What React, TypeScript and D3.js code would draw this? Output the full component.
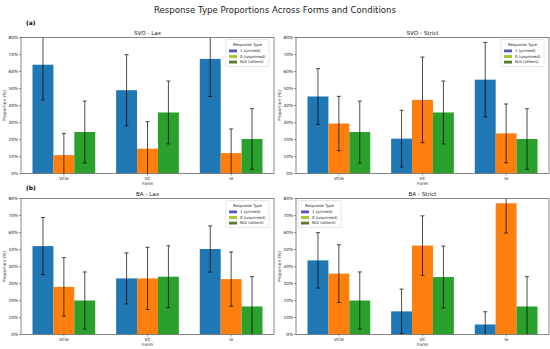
import * as React from "react";
import * as d3 from "d3";

const forms = ["VCle", "VC", "le"];
const responseTypes = ["1 (primed)", "0 (unprimed)", "N/A (others)"];
const panelTitles = ["SVO - Lax", "SVO - Strict", "BA - Lax", "BA - Strict"];
const yTicks = [0, 10, 20, 30, 40, 50, 60, 70, 80];

// values (%) per panel, per response type, per form
const svoLaxPrimed = [64, 49, 67.4];
const svoLaxUnprimed = [10.8, 14.6, 12];
const svoLaxOthers = [24.4, 35.9, 20.3];
const svoLaxPrimedErr = [20.7, 20.9, 22.1];
const svoLaxUnprimedErr = [12.8, 15.9, 14.2];
const svoLaxOthersErr = [18.2, 18.5, 17.8];

const svoStrictPrimed = [45.3, 20.5, 55.2];
const svoStrictUnprimed = [29.4, 43.3, 23.6];
const svoStrictOthers = [24.4, 35.9, 20.3];
const svoStrictPrimedErr = [16.4, 16.7, 21.9];
const svoStrictUnprimedErr = [16, 25.2, 17.3];
const svoStrictOthersErr = [18.2, 18.5, 17.8];

const baLaxPrimed = [52, 33, 50.3];
const baLaxUnprimed = [28, 33, 32.6];
const baLaxOthers = [20, 34, 16.5];
const baLaxPrimedErr = [16.8, 15, 13.6];
const baLaxUnprimedErr = [17.2, 18.3, 16];
const baLaxOthersErr = [16.8, 18.2, 17.5];

const baStrictPrimed = [43.6, 13.6, 5.9];
const baStrictUnprimed = [35.8, 52.3, 77.2];
const baStrictOthers = [20, 33.8, 16.5];
const baStrictPrimedErr = [16.3, 13.1, 7.5];
const baStrictUnprimedErr = [17, 17.5, 17.5];
const baStrictOthersErr = [16.8, 18.2, 17.5];

const barColors = ["#1f77b4", "#ff7f0e", "#2ca02c"];
const legendColors = ["#5458c0", "#a4c428", "#567a30"];

function drawChart(svgRef: React.RefObject<SVGSVGElement>) {
  const svg = d3.select(svgRef.current);
  svg.selectAll("*").remove();
  const font = "DejaVu Sans, sans-serif";

  const panels = [
    { title: panelTitles[0], vals: [svoLaxPrimed, svoLaxUnprimed, svoLaxOthers], errs: [svoLaxPrimedErr, svoLaxUnprimedErr, svoLaxOthersErr], x0: 21, y0: 37.5, legendLeft: false },
    { title: panelTitles[1], vals: [svoStrictPrimed, svoStrictUnprimed, svoStrictOthers], errs: [svoStrictPrimedErr, svoStrictUnprimedErr, svoStrictOthersErr], x0: 296, y0: 37.5, legendLeft: false },
    { title: panelTitles[2], vals: [baLaxPrimed, baLaxUnprimed, baLaxOthers], errs: [baLaxPrimedErr, baLaxUnprimedErr, baLaxOthersErr], x0: 21, y0: 198.5, legendLeft: false },
    { title: panelTitles[3], vals: [baStrictPrimed, baStrictUnprimed, baStrictOthers], errs: [baStrictPrimedErr, baStrictUnprimedErr, baStrictOthersErr], x0: 296, y0: 198.5, legendLeft: true },
  ];
  const w = 253;
  const h = 136;

  svg.append("text")
    .attr("x", 275).attr("y", 13)
    .attr("text-anchor", "middle")
    .style("font-family", font).style("font-size", "8.6px").style("fill", "#222")
    .text("Response Type Proportions Across Forms and Conditions");

  svg.append("text").attr("x", 26).attr("y", 25)
    .style("font-family", font).style("font-size", "6px").style("font-weight", "bold")
    .text("(a)");
  svg.append("text").attr("x", 26).attr("y", 190)
    .style("font-family", font).style("font-size", "6px").style("font-weight", "bold")
    .text("(b)");

  panels.forEach((p, pi) => {
    const g = svg.append("g").attr("transform", `translate(${p.x0},${p.y0})`);
    const x = d3.scaleLinear().domain([-0.5125, 2.5125]).range([0, w]);
    const y = d3.scaleLinear().domain([0, 80]).range([h, 0]);
    const bw = x(0.25) - x(0);

    const clipId = `clip${pi}`;
    g.append("clipPath").attr("id", clipId)
      .append("rect").attr("width", w).attr("height", h);
    const plot = g.append("g").attr("clip-path", `url(#${clipId})`);

    p.vals.forEach((series, si) => {
      const off = (si - 1) * 0.25;
      plot.selectAll(null).data(series).enter().append("rect")
        .attr("x", (_, i) => x(i + off) - bw / 2)
        .attr("y", (d) => y(d))
        .attr("width", bw)
        .attr("height", (d) => h - y(d))
        .style("fill", barColors[si]);
    });

    p.vals.forEach((series, si) => {
      const off = (si - 1) * 0.25;
      const errs = p.errs[si];
      series.forEach((v, i) => {
        const cx = x(i + off);
        const eg = plot.append("g").style("stroke", "#000").style("stroke-opacity", 0.7).style("stroke-width", 1);
        eg.append("line").attr("x1", cx).attr("x2", cx).attr("y1", y(v - errs[i])).attr("y2", y(v + errs[i]));
        eg.append("line").attr("x1", cx - 2).attr("x2", cx + 2).attr("y1", y(v - errs[i])).attr("y2", y(v - errs[i]));
        eg.append("line").attr("x1", cx - 2).attr("x2", cx + 2).attr("y1", y(v + errs[i])).attr("y2", y(v + errs[i]));
      });
    });

    // frame
    g.append("rect").attr("width", w).attr("height", h)
      .style("fill", "none").style("stroke", "#555").style("stroke-width", 0.7);

    // y axis
    yTicks.forEach((t) => {
      g.append("line").attr("x1", -2).attr("x2", 0).attr("y1", y(t)).attr("y2", y(t))
        .style("stroke", "#555").style("stroke-width", 0.6);
      g.append("text").attr("x", -3).attr("y", y(t)).attr("dy", "0.35em")
        .attr("text-anchor", "end")
        .style("font-family", font).style("font-size", "4.3px").style("fill", "#222")
        .text(`${t}%`);
    });
    g.append("text")
      .attr("transform", `translate(${-15},${h / 2}) rotate(-90)`)
      .attr("text-anchor", "middle")
      .style("font-family", font).style("font-size", "4.3px").style("fill", "#222")
      .text("Proportion (%)");

    // x axis
    forms.forEach((f, i) => {
      g.append("line").attr("x1", x(i)).attr("x2", x(i)).attr("y1", h).attr("y2", h + 2)
        .style("stroke", "#555").style("stroke-width", 0.6);
      g.append("text").attr("x", x(i)).attr("y", h + 6.5)
        .attr("text-anchor", "middle")
        .style("font-family", font).style("font-size", "4.3px").style("fill", "#222")
        .text(f);
    });
    g.append("text").attr("x", w / 2).attr("y", h + 11)
      .attr("text-anchor", "middle")
      .style("font-family", font).style("font-size", "4.3px").style("fill", "#222")
      .text("Form");

    g.append("text").attr("x", w / 2).attr("y", -3)
      .attr("text-anchor", "middle")
      .style("font-family", font).style("font-size", "5.6px").style("fill", "#222")
      .text(p.title);

    // legend
    const lw = 43;
    const lx = p.legendLeft ? 2 : w - lw - 5;
    const lg = g.append("g").attr("transform", `translate(${lx},2)`);
    lg.append("rect").attr("width", lw).attr("height", 27).attr("rx", 1)
      .style("fill", "#fff").style("fill-opacity", 0.85).style("stroke", "#ccc").style("stroke-width", 0.5);
    lg.append("text").attr("x", lw / 2).attr("y", 6)
      .attr("text-anchor", "middle")
      .style("font-family", font).style("font-size", "3.9px").style("fill", "#222")
      .text("Response Type");
    responseTypes.forEach((r, ri) => {
      const ry = 10 + ri * 5.6;
      lg.append("rect").attr("x", 3).attr("y", ry).attr("width", 8).attr("height", 2.8)
        .style("fill", legendColors[ri]);
      lg.append("text").attr("x", 14).attr("y", ry + 1.4).attr("dy", "0.35em")
        .style("font-family", font).style("font-size", "3.9px").style("fill", "#222")
        .text(r);
    });
  });
}

const App: React.FunctionComponent = () => {
  const svg = React.useRef<SVGSVGElement>(null);
  React.useEffect(() => {
    drawChart(svg);
  }, [svg]);

  return (
    <div id="chart" style={{ position: "absolute", left: 0, top: 0 }}>
      <svg ref={svg} width={550} height={349} style={{ display: "block", background: "#fff" }} />
    </div>
  );
};

export default App;
